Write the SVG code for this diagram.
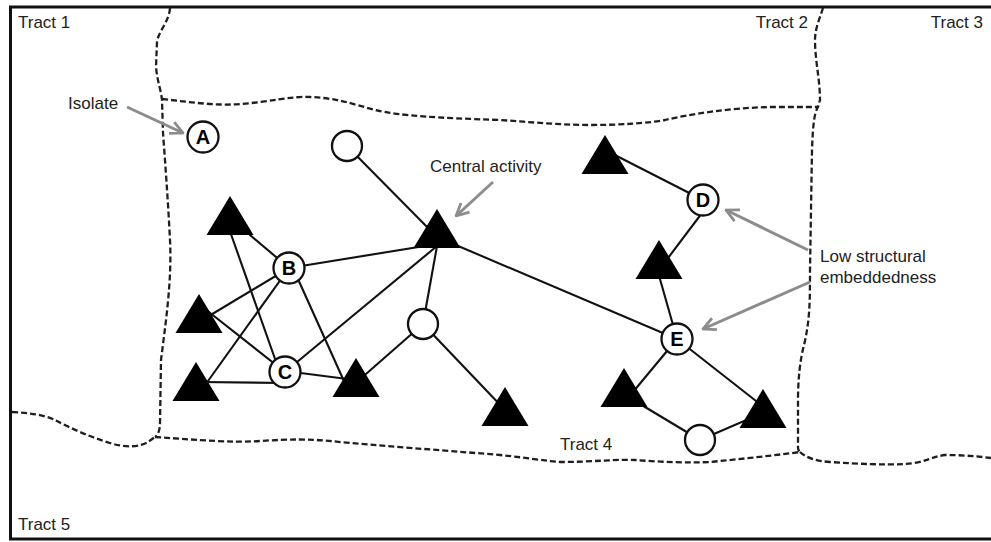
<svg xmlns="http://www.w3.org/2000/svg" xmlns:xlink="http://www.w3.org/1999/xlink" width="991" height="542" viewBox="0 0 991 542">
<style>
.bd{fill:none;stroke:#1e1e1e;stroke-width:2.3;stroke-dasharray:6 3;stroke-linejoin:round}
.lbl{font-family:"Liberation Sans",Arial,sans-serif;font-size:17px;fill:#222}
.ed line{stroke:#111;stroke-width:2.1}
.ar line{stroke:#8c8c8c;stroke-width:3;marker-end:url(#ah)}
.nd circle{fill:#fff;stroke:#111;stroke-width:2.3}
.ltr{font-family:"Liberation Sans",Arial,sans-serif;font-size:20px;font-weight:bold;fill:#000;text-anchor:middle}
</style>
<defs>
<path id="tri" d="M0,0 L23.5,39 L-23.5,39 Z" fill="#000"/>
<marker id="ah" viewBox="0 0 12 12" refX="11" refY="6" markerWidth="15" markerHeight="15" markerUnits="userSpaceOnUse" orient="auto">
<path d="M1,1 L11,6 L1,11" fill="none" stroke="#8c8c8c" stroke-width="2.2"/>
</marker>
</defs>
<rect x="0" y="0" width="991" height="542" fill="#fff"/>
<rect id="frame" x="10.5" y="7" width="1000" height="532" fill="none" stroke="#111" stroke-width="3"/>
<g id="boundaries">
<path class="bd" d="M170,8 C169,22 158,32 157,42 L156,67 C157,80 161,90 162,100 L163,133 C165,160 168,200 170,240 C172,280 166,320 161,360 L160,423 C160,432 157,436 155,437"/>
<path class="bd" d="M12,412 C30,413 45,415 55,420 C70,428 90,437 110,443 C125,448 140,447 148,442 L155,437"/>
<path class="bd" d="M155,437 C200,440 230,443 260,441 C290,439 310,439 330,441 C380,446 440,450 500,455 C530,458 545,461 560,462 C590,462 620,459 635,460 C660,462 690,463 710,462 C740,459 770,456 800,452"/>
<path class="bd" d="M800,452 C805,457 815,461 830,462 C860,464 885,465 905,464 C925,463 930,457 945,455 C960,455 975,456 991,458"/>
<path class="bd" d="M162,99 C190,102 215,106 240,104 C270,102 290,96 310,97 C335,98 350,103 375,110 C400,116 440,118 500,120 C530,122 560,125 590,125 C620,125 650,123 665,120 C690,114 730,108 770,107 L818,107"/>
<path class="bd" d="M823,8 C820,18 815,28 815,40 C815,60 820,80 820,100 L818,107 C815,112 813,120 812,150 L810,270 C810,300 810,320 804,345 C800,360 798,380 798,400 L798,448 C798,450 799,451 800,452"/>
</g>
<g id="tract-labels" class="lbl">
<text x="18" y="28">Tract 1</text>
<text x="808" y="28" text-anchor="end">Tract 2</text>
<text x="983" y="28" text-anchor="end">Tract 3</text>
<text x="560" y="450">Tract 4</text>
<text x="18" y="530">Tract 5</text>
</g>
<g id="connectors" class="ed">
<line x1="347" y1="146" x2="433" y2="233"/>
<line x1="289" y1="268" x2="437" y2="244"/>
<line x1="285" y1="372" x2="437" y2="246"/>
<line x1="423" y1="324" x2="437" y2="246"/>
<line x1="437" y1="237" x2="677" y2="339"/>
<line x1="230" y1="218" x2="289" y2="268"/>
<line x1="226" y1="220" x2="280" y2="373"/>
<line x1="199" y1="322" x2="289" y2="268"/>
<line x1="203" y1="388" x2="289" y2="268"/>
<line x1="293" y1="268" x2="348" y2="390"/>
<line x1="200" y1="305" x2="285" y2="372"/>
<line x1="200" y1="382" x2="284" y2="383"/>
<line x1="285" y1="371" x2="355" y2="380"/>
<line x1="423" y1="324" x2="358" y2="381"/>
<line x1="423" y1="324" x2="505" y2="410"/>
<line x1="605" y1="150" x2="703" y2="200"/>
<line x1="708" y1="205" x2="662" y2="266"/>
<line x1="656" y1="265" x2="677" y2="339"/>
<line x1="677" y1="339" x2="628" y2="398"/>
<line x1="677" y1="339" x2="765" y2="408"/>
<line x1="630" y1="398" x2="700" y2="440"/>
<line x1="700" y1="440" x2="765" y2="412"/>
</g>
<g id="annotations">
<g class="ar">
<line x1="127" y1="107" x2="183" y2="133"/>
<line x1="493" y1="182" x2="456" y2="216"/>
<line x1="808" y1="250" x2="726" y2="210"/>
<line x1="810" y1="282" x2="703" y2="329"/>
</g>
<g class="lbl">
<text x="68" y="109">Isolate</text>
<text x="430" y="172">Central activity</text>
<text x="820" y="262">Low structural</text>
<text x="820" y="283">embeddedness</text>
</g>
</g>
<g id="nodes" class="nd">
<use id="t-central" xlink:href="#tri" x="437" y="209"/>
<use id="t-topleft" xlink:href="#tri" x="230" y="196"/>
<use id="t-leftmid" xlink:href="#tri" x="199" y="294"/>
<use id="t-bottomleft" xlink:href="#tri" x="196" y="362"/>
<use id="t-bottommid" xlink:href="#tri" x="356" y="358"/>
<use id="t-lower" xlink:href="#tri" x="505" y="387"/>
<use id="t-topright" xlink:href="#tri" x="605" y="135"/>
<use id="t-midright" xlink:href="#tri" x="659" y="240"/>
<use id="t-lowleftE" xlink:href="#tri" x="624" y="368"/>
<use id="t-lowrightE" xlink:href="#tri" x="763" y="389"/>
<g id="n-A"><circle cx="203" cy="137" r="15.5"/><text class="ltr" x="203" y="144">A</text></g>
<g id="n-B"><circle cx="289" cy="268" r="15.5"/><text class="ltr" x="289" y="275">B</text></g>
<g id="n-C"><circle cx="285" cy="372" r="15.5"/><text class="ltr" x="285" y="379">C</text></g>
<g id="n-D"><circle cx="703" cy="200" r="15.5"/><text class="ltr" x="703" y="207">D</text></g>
<g id="n-E"><circle cx="677" cy="339" r="15.5"/><text class="ltr" x="677" y="346">E</text></g>
<g id="n-o1"><circle cx="347" cy="146" r="15"/></g>
<g id="n-o2"><circle cx="423" cy="324" r="15"/></g>
<g id="n-o3"><circle cx="700" cy="440" r="15"/></g>
</g>
</svg>
